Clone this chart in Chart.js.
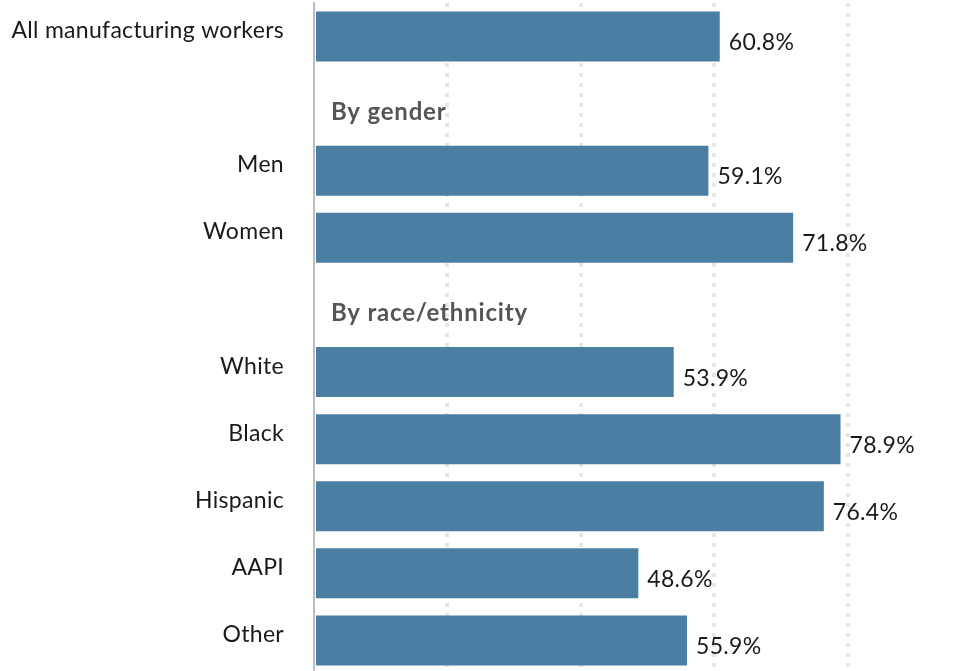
<!DOCTYPE html>
<html>
<head>
<meta charset="utf-8">
<script src="https://cdn.jsdelivr.net/npm/chart.js@4.4.1/dist/chart.umd.min.js"></script>
<style>
  html, body { margin: 0; padding: 0; background: #fff; overflow: hidden; }
  #holder { position: relative; width: 978px; height: 674px; }
</style>
</head>
<body>
<div id="holder"><canvas id="chart"></canvas></div>
<script>
// rows of the chart, empty rows hold the section headings
var row_labels = ["All manufacturing workers", "", "Men", "Women", "", "White", "Black", "Hispanic", "AAPI", "Other"];
var row_values = [60.8, null, 59.1, 71.8, null, 53.9, 78.9, 76.4, 48.6, 55.9];
var row_headings = [null, "By gender", null, null, "By race/ethnicity", null, null, null, null, null];
var grid_ticks = [0, 20, 40, 60, 80];

var FONT = "Lato";

// draws category labels, value labels and the section headings
var label_plugin = {
    id: "label_plugin",
    afterDatasetsDraw: function(chart){
        var ctx = chart.ctx;
        var meta = chart.getDatasetMeta(0);
        var x_scale = chart.scales.x;
        var y_scale = chart.scales.y;
        ctx.save();
        ctx.textBaseline = "alphabetic";
        for(var i = 0; i < row_labels.length; i++){
            var y = y_scale.getPixelForValue(i);
            ctx.letterSpacing = "0.3px";
            if(row_labels[i] !== ""){
                ctx.font = "23px " + FONT;
                ctx.fillStyle = "#1a1a1a";
                ctx.textAlign = "right";
                ctx.fillText(row_labels[i], x_scale.left - 30, y + 1.5);
            }
            if(row_values[i] !== null){
                var bar = meta.data[i];
                ctx.font = "23px " + FONT;
                ctx.fillStyle = "#1a1a1a";
                ctx.textAlign = "left";
                ctx.fillText(row_values[i].toFixed(1) + "%", bar.x + 9, y + 13.5);
            }
            if(row_headings[i] !== null){
                ctx.letterSpacing = "0.8px";
                ctx.font = "bold 24px " + FONT;
                ctx.fillStyle = "#555555";
                ctx.textAlign = "left";
                ctx.fillText(row_headings[i], x_scale.left + 17, y + 16);
            }
        }
        ctx.restore();
    }
};

var ctx = document.getElementById("chart").getContext("2d");
var the_chart = new Chart(ctx, {
    type: "bar",
    data: {
        labels: row_labels,
        datasets: [{
            data: row_values,
            backgroundColor: "#4a7fa1",
            barPercentage: 0.745,
            categoryPercentage: 1.0
        }]
    },
    options: {
        indexAxis: "y",
        responsive: true,
        maintainAspectRatio: false,
        animation: false,
        layout: { padding: { top: 3, left: 0, right: 0, bottom: 0 } },
        plugins: { legend: { display: false }, tooltip: { enabled: false } },
        scales: {
            x: {
                min: 0,
                max: 99.5,
                afterBuildTicks: function(scale){
                    scale.ticks = grid_ticks.map(function(v){ return { value: v }; });
                },
                ticks: { display: false },
                grid: {
                    drawTicks: false,
                    lineWidth: 4,
                    color: function(c){ return c.tick && c.tick.value === 0 ? "rgba(0,0,0,0)" : "#e6e6e6"; }
                },
                border: { display: false, dash: [4, 6] }
            },
            y: {
                afterFit: function(scale){ scale.width = 314; },
                ticks: { display: false },
                grid: { display: false, drawTicks: false },
                border: { display: true, color: "#bdbdbd", width: 2 }
            }
        }
    },
    plugins: [label_plugin]
});
</script>
</body>
</html>
